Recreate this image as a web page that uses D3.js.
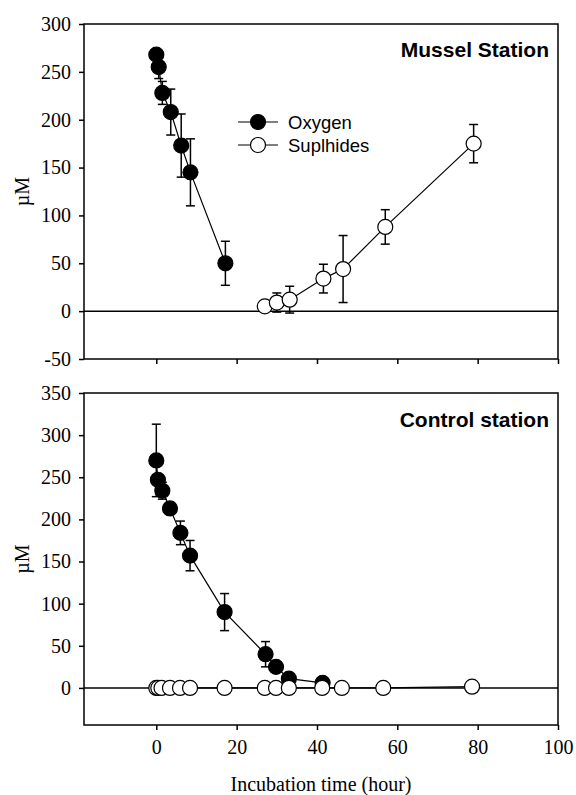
<!DOCTYPE html>
<html>
<head>
<meta charset="utf-8">
<script src="https://cdn.jsdelivr.net/npm/d3@7"></script>
<style>
  body { margin: 0; background: #fff; }
  svg { display: block; }
</style>
</head>
<body>
<script>
// ---- data (hours, µM, error) ----
var musselOxyT   = [0, 0.6, 1.5, 3.6, 6.2, 8.5, 17.2];
var musselOxy    = [268, 255, 228, 208, 173, 145, 50];
var musselOxyErr = [5, 12, 12, 24, 33, 35, 23];

var musselSulT   = [27, 30, 33.2, 41.6, 46.5, 57, 79];
var musselSul    = [5, 9, 12, 34, 44, 88, 175];
var musselSulErr = [0, 10, 14, 15, 35, 18, 20];

var controlOxyT   = [0, 0.4, 1.5, 3.4, 6, 8.4, 17, 27.2, 29.8, 33, 41.4];
var controlOxy    = [270, 247, 234, 213, 184, 157, 90, 40, 25, 11, 6];
var controlOxyErr = [43, 0, 10, 7, 14, 18, 22, 15, 0, 0, 0];

var controlSulT   = [0, 0.5, 1.3, 3.4, 5.9, 8.4, 17, 27, 29.8, 33, 41.3, 46.2, 56.5, 78.6];
var controlSul    = [0, 0, 0, 0, 0, 0, 0, 0, 0, 0, 0, 0, 0, 1.5];
var controlSulErr = [0, 0, 0, 0, 0, 0, 0, 0, 0, 0, 0, 0, 0, 0];

var xTicks = [0, 20, 40, 60, 80, 100];
var yTicksTop = [-50, 0, 50, 100, 150, 200, 250, 300];
var yTicksBottom = [0, 50, 100, 150, 200, 250, 300, 350];

var width = 576, height = 795;
var serif = "'Liberation Serif', 'Times New Roman', serif";
var sans = "'Liberation Sans', Arial, sans-serif";

var svg = d3.select('body').append('svg').attr('width', width).attr('height', height);

var x = d3.scaleLinear().domain([-18, 100]).range([84, 558]);

function zip(t, v, e) {
  return t.map(function (d, i) { return { t: d, v: v[i], e: e[i] }; });
}

// plain hyphen for negatives, like the original
function plain(d) { return String(d); }

function panel(top, bottom, yDomain, yTicks, title, titleY, series, showXLabels) {
  var y = d3.scaleLinear().domain(yDomain).range([bottom, top]);
  var g = svg.append('g');

  // zero line
  g.append('line')
    .attr('x1', x.range()[0]).attr('x2', x.range()[1])
    .attr('y1', y(0)).attr('y2', y(0))
    .attr('stroke', '#000').attr('stroke-width', 1.5);

  var yAxis = g.append('g')
    .attr('transform', 'translate(' + x.range()[0] + ',0)')
    .call(d3.axisLeft(y).tickValues(yTicks).tickSize(5).tickPadding(8).tickFormat(plain));
  yAxis.select('.domain').remove();
  yAxis.selectAll('line').attr('stroke-width', 1.5);
  yAxis.selectAll('text').style('font-family', serif).style('font-size', '20px').attr('fill', '#000');

  var xAxis = g.append('g')
    .attr('transform', 'translate(0,' + bottom + ')')
    .call(d3.axisBottom(x).tickValues(xTicks).tickSize(5).tickPadding(10)
      .tickFormat(showXLabels ? plain : ''));
  xAxis.select('.domain').remove();
  xAxis.selectAll('line').attr('stroke-width', 1.5);
  xAxis.selectAll('text').style('font-family', serif).style('font-size', '20px').attr('fill', '#000');

  g.append('rect')
    .attr('x', x.range()[0]).attr('y', top)
    .attr('width', x.range()[1] - x.range()[0]).attr('height', bottom - top)
    .attr('fill', 'none').attr('stroke', '#000').attr('stroke-width', 1.5);

  // y label
  g.append('text')
    .attr('transform', 'translate(29,' + (top + bottom) / 2 + ') rotate(-90)')
    .attr('text-anchor', 'middle')
    .style('font-family', serif).style('font-size', '20px')
    .text('µM');

  g.append('text')
    .attr('x', 549).attr('y', titleY)
    .attr('text-anchor', 'end')
    .style('font-family', sans).style('font-size', '21px').style('font-weight', 'bold')
    .text(title);

  var line = d3.line().x(function (d) { return x(d.t); }).y(function (d) { return y(d.v); });

  series.forEach(function (s) {
    g.append('path').datum(s.data)
      .attr('d', line).attr('fill', 'none')
      .attr('stroke', '#000').attr('stroke-width', 1.2);

    var eb = g.selectAll(null).data(s.data.filter(function (d) { return d.e > 0; }))
      .enter().append('g').attr('stroke', '#000').attr('stroke-width', 1.5);
    eb.append('line')
      .attr('x1', function (d) { return x(d.t); }).attr('x2', function (d) { return x(d.t); })
      .attr('y1', function (d) { return y(d.v + d.e); }).attr('y2', function (d) { return y(d.v - d.e); });
    eb.append('line')
      .attr('x1', function (d) { return x(d.t) - 4.5; }).attr('x2', function (d) { return x(d.t) + 4.5; })
      .attr('y1', function (d) { return y(d.v + d.e); }).attr('y2', function (d) { return y(d.v + d.e); });
    eb.append('line')
      .attr('x1', function (d) { return x(d.t) - 4.5; }).attr('x2', function (d) { return x(d.t) + 4.5; })
      .attr('y1', function (d) { return y(d.v - d.e); }).attr('y2', function (d) { return y(d.v - d.e); });
  });

  series.forEach(function (s) {
    g.selectAll(null).data(s.data).enter().append('circle')
      .attr('cx', function (d) { return x(d.t); })
      .attr('cy', function (d) { return y(d.v); })
      .attr('r', 7.5)
      .attr('fill', s.fill).attr('stroke', '#000').attr('stroke-width', 1.2);
  });

  return g;
}

panel(24, 359, [-50, 300], yTicksTop, 'Mussel Station', 57, [
  { data: zip(musselOxyT, musselOxy, musselOxyErr), fill: '#000' },
  { data: zip(musselSulT, musselSul, musselSulErr), fill: '#fff' }
], false);

panel(393, 725, [-44, 350], yTicksBottom, 'Control station', 427, [
  { data: zip(controlOxyT, controlOxy, controlOxyErr), fill: '#000' },
  { data: zip(controlSulT, controlSul, controlSulErr), fill: '#fff' }
], true);

// legend
var legendItems = [
  { name: 'Oxygen', fill: '#000', y: 122 },
  { name: 'Suplhides', fill: '#fff', y: 145 }
];
var lg = svg.append('g');
legendItems.forEach(function (d) {
  lg.append('line').attr('x1', 238).attr('x2', 278).attr('y1', d.y).attr('y2', d.y)
    .attr('stroke', '#000').attr('stroke-width', 1.2);
  lg.append('circle').attr('cx', 258).attr('cy', d.y).attr('r', 7.5)
    .attr('fill', d.fill).attr('stroke', '#000').attr('stroke-width', 1.2);
  lg.append('text').attr('x', 288).attr('y', d.y + 6.5)
    .style('font-family', sans).style('font-size', '18.5px')
    .text(d.name);
});

svg.append('text')
  .attr('x', 321).attr('y', 791)
  .attr('text-anchor', 'middle')
  .style('font-family', serif).style('font-size', '20px')
  .text('Incubation time (hour)');
</script>
</body>
</html>
